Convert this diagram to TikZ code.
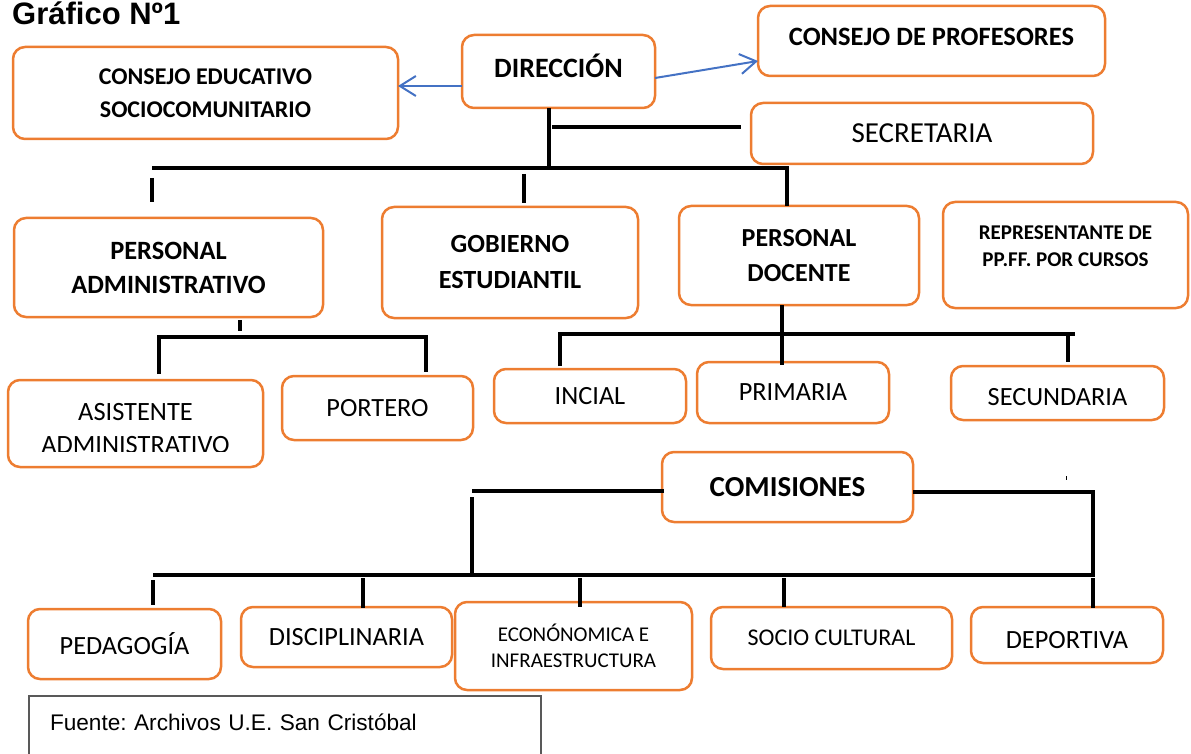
\documentclass[tikz,border=0pt]{standalone}
\usepackage{fontspec}
\setmainfont{Carlito}
\newfontfamily\arialfont{Liberation Sans}
\usepackage{tikz}
\usetikzlibrary{positioning,calc,arrows.meta}
\definecolor{boxorange}{HTML}{ED7D31}
\definecolor{linkblue}{HTML}{4472C4}
\newcommand{\fsz}[2]{\fontsize{#1}{#2}\selectfont}
\frenchspacing

\begin{document}
\begin{tikzpicture}[
    x=1pt, y=-1pt,
    box/.style={rectangle, draw=boxorange, line width=2.5pt, rounded corners=12pt, align=center, outer sep=0pt, inner sep=1pt, font=\fsz{26.3}{33}},
    tree/.style={line width=4pt},
    link/.style={->, >={Straight Barb[length=16pt,width=20pt]}, draw=linkblue, line width=2pt},
    srcbox/.style={draw=black!65, line width=1.2pt, align=left, outer sep=0pt, inner xsep=21pt, inner ysep=17pt}
]
    \useasboundingbox (0,0) rectangle (1191,754);

    % Title
    \node[anchor=base west, inner sep=0pt, font=\arialfont\bfseries\fsz{31}{36}] (title) at (12,25) {Gráfico Nº1};

    % Top level
    \node[box, minimum width=193pt, minimum height=73pt, text depth=11pt, font=\bfseries\fsz{28}{34}] (dir) at (558.5,71.5) {DIRECCIÓN};
    \node[box, minimum width=385pt, minimum height=92pt, font=\bfseries\fsz{24}{33}, below left=12pt and 64pt of dir.north west] (cee) {CONSEJO EDUCATIVO\\SOCIOCOMUNITARIO};
    \node[box, minimum width=347pt, minimum height=70pt, text depth=8pt, font=\bfseries\fsz{26.5}{32}, above right=32pt and 103pt of dir.south east] (cprof) {CONSEJO DE PROFESORES};
    \node[box, minimum width=342pt, minimum height=61pt, font=\fsz{29}{35}, below right=27pt and -7pt of cprof.south west] (secr) {SECRETARIA};

    % Second row
    \node[box, minimum width=309pt, minimum height=99pt, font=\bfseries\fsz{26.4}{34}, below right=79pt and 1pt of cee.south west] (padm) {PERSONAL\\ADMINISTRATIVO};
    \node[box, minimum width=256pt, minimum height=111pt, font=\bfseries\fsz{26.2}{36}, above right=-1pt and 59pt of padm.south east] (gob) {GOBIERNO\\ESTUDIANTIL};
    \node[box, minimum width=240pt, minimum height=99pt, font=\bfseries\fsz{26}{35}, above right=13pt and 41pt of gob.south east] (pdoc) {PERSONAL\\DOCENTE};
    \node[box, minimum width=245pt, minimum height=106pt, text depth=18pt, font=\bfseries\fsz{21}{27}, above right=-3pt and 24pt of pdoc.south east] (rep) {REPRESENTANTE DE\\PP.FF. POR CURSOS};

    % Third row
    \node[box, minimum width=255pt, minimum height=87pt, below right=63pt and -6pt of padm.south west] (asis) {};
    \begin{scope}
        \clip (asis.north west) rectangle ($(asis.south east)+(0,-16)$);
        \node[align=center, font=\fsz{26.4}{33}] (asisText) at ($(asis.center)+(0,5)$) {ASISTENTE\\ADMINISTRATIVO};
    \end{scope}
    \node[box, minimum width=191pt, minimum height=64pt, below right=-4pt and 19pt of asis.north east] (port) {PORTERO};
    \node[box, minimum width=192pt, minimum height=54pt, below right=-7pt and 21pt of port.north east] (inc) {INCIAL};
    \node[box, minimum width=192pt, minimum height=61pt, below right=-7pt and 11pt of inc.north east] (prim) {PRIMARIA};
    \node[box, minimum width=213pt, minimum height=54pt, text height=26pt, below right=4pt and 62pt of prim.north east] (sec) {SECUNDARIA};

    % Commissions
    \node[box, minimum width=251pt, minimum height=70pt, font=\bfseries\fsz{29}{35}, below right=29pt and -35pt of prim.south west] (com) {COMISIONES};
    \node[box, minimum width=193pt, minimum height=70pt, below right=142pt and 20pt of asis.south west] (ped) {PEDAGOGÍA};
    \node[box, minimum width=211pt, minimum height=60pt, below right=-2pt and 20pt of ped.north east] (dis) {DISCIPLINARIA};
    \node[box, minimum width=237pt, minimum height=88pt, font=\fsz{21}{26}, below right=-5pt and 3pt of dis.north east] (eco) {ECONÓNOMICA E\\INFRAESTRUCTURA};
    \node[box, minimum width=241pt, minimum height=62pt, font=\fsz{24}{30}, below right=5pt and 19pt of eco.north east] (soc) {SOCIO CULTURAL};
    \node[box, minimum width=192pt, minimum height=56pt, text height=27pt, below right=0pt and 19pt of soc.north east] (dep) {DEPORTIVA};

    % Source
    \node[srcbox, text width=470pt, text height=17pt, text depth=40pt, font=\arialfont\fsz{22.6}{28}, below right=17pt and 1pt of ped.south west] (src) {Fuente: Archivos U.E. San Cristóbal};

    % Blue arrows
    \draw[link] ($(dir.west)+(0,14.5)$) -- ($(cee.east)+(0,-7)$);
    \draw[link] ($(dir.east)+(0,6.5)$) -- ($(cprof.west)+(0,20)$);

    % Tree under Direccion
    \coordinate (trunk) at ($(dir.south)+(-9.5,60)$);
    \coordinate (busL) at ($(trunk -| padm.north)+(-16.5,0)$);
    \coordinate (busR) at ($(trunk -| pdoc.north)+(-12,0)$);
    \draw[tree] ($(dir.south)+(-9.5,0)$) -- (trunk);
    \draw[tree] ($(dir.south)+(-6.5,19)$) -- ($(secr.west)+(-10,-6.5)$);
    \draw[tree] (busL) -- (busR) -- (busR |- pdoc.north);
    \draw[tree] ($(busL)+(0,10)$) -- ($(padm.north -| busL)+(0,-16)$);
    \draw[tree] ($(gob.north)+(14,-33)$) -- ($(gob.north)+(14,-4)$);

    % Administrative staff
    \draw[tree] ($(padm.south)+(71.5,3)$) -- ($(padm.south)+(71.5,14)$);
    \draw[tree] ($(asis.north)+(23.5,-6)$) |- ($(port.north)+(48.5,-39)$) -- ($(port.north)+(48.5,-4)$);

    % Teaching staff
    \draw[tree] ($(pdoc.south)+(-17,0)$) -- ($(prim.north)+(-11,3)$);
    \draw[tree] ($(inc.north)+(-30,-3)$) |- ($(sec.north)+(17.5,-32)$);
    \draw[tree] ($(sec.north)+(10.5,-32)$) -- ($(sec.north)+(10.5,-4)$);

    % Commissions
    \coordinate (comR) at ($(dep.north)+(26,-32)$);
    \draw[tree] ($(com.east)+(0,5)$) -| (comR) -- ($(ped.north |- comR)+(28.5,0)$);
    \draw[tree] ($(com.west)+(2,4)$) -- ($(com.west)+(-190,4)$);
    \draw[tree] ($(com.west)+(-190,10)$) -- ($(com.west)+(-190,88)$);
    \draw[tree] ($(ped.north)+(28.5,-29)$) -- ($(ped.north)+(28.5,-4)$);
    \draw[tree] ($(dis.north)+(16.5,-29)$) -- ($(dis.north)+(16.5,1)$);
    \draw[tree] ($(eco.north)+(6.5,-24)$) -- ($(eco.north)+(6.5,5)$);
    \draw[tree] ($(soc.north)+(-47.5,-29)$) -- ($(soc.north)+(-47.5,0)$);
    \draw[tree] ($(dep.north)+(26,-29)$) -- ($(dep.north)+(26,1)$);
    \draw[line width=1pt] ($(comR)+(-27,-99)$) -- ++(0,4);
\end{tikzpicture}
\end{document}
